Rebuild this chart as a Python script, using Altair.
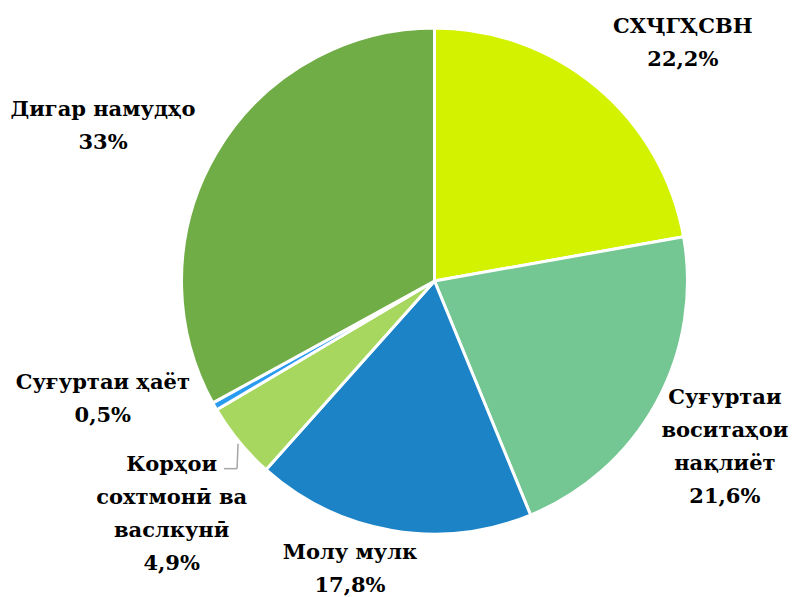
import math
import altair as alt
import pandas as pd

# ---- data ----
categories = [
    "СХҶГҲСВН",
    "Суғуртаи воситаҳои нақлиёт",
    "Молу мулк",
    "Корҳои сохтмонӣ ва васлкунӣ",
    "Суғуртаи ҳаёт",
    "Дигар намудҳо",
]
label_lines = [
    "СХҶГҲСВН",
    "Суғуртаи\nвоситаҳои\nнақлиёт",
    "Молу мулк",
    "Корҳои\nсохтмонӣ ва\nваслкунӣ",
    "Суғуртаи ҳаёт",
    "Дигар намудҳо",
]
values = [22.2, 21.6, 17.8, 4.9, 0.5, 33.0]
value_labels = ["22,2%", "21,6%", "17,8%", "4,9%", "0,5%", "33%"]
colors = ["#d2f200", "#74c693", "#1c83c7", "#a7d75e", "#2a9cf0", "#71ad47"]

# ---- layout (styling only) ----
W, H = 787, 589
CX, CY = 426.5, 273
R = 253
label_radius = [355, 313, 285, 321, 347, 373]
label_nudge = [1.23, -1.91, 2.09, 1.22, 3.5, -0.92]  # in percent of the circle

starts, ends = [], []
acc = 0.0
for v in values:
    starts.append(acc)
    acc += v
    ends.append(acc)

df = pd.DataFrame({
    "cat": categories,
    "value": values,
    "start": starts,
    "end": ends,
    "label": [f"{l}\n{p}" for l, p in zip(label_lines, value_labels)],
    "lab_angle": [(s + e) / 2 + n for s, e, n in zip(starts, ends, label_nudge)],
    "lab_r": label_radius,
})

theta_scale = alt.Scale(domain=[0, 100], range=[0, 2 * math.pi])

arcs = alt.Chart(df).mark_arc(
    outerRadius=R, stroke="white", strokeWidth=3
).encode(
    x=alt.value(CX),
    y=alt.value(CY),
    theta=alt.Theta("start:Q", scale=theta_scale),
    theta2="end:Q",
    color=alt.Color("cat:N", scale=alt.Scale(domain=categories, range=colors), legend=None),
)

texts = alt.Chart(df).mark_text(
    font="DejaVu Serif", fontWeight="bold", fontSize=21, lineHeight=33,
    lineBreak="\n", align="center", baseline="middle", color="#000000",
).encode(
    x=alt.value(CX),
    y=alt.value(CY),
    theta=alt.Theta("lab_angle:Q", scale=theta_scale),
    radius=alt.Radius("lab_r:Q", scale=None),
    text="label:N",
)

# leader line for the construction slice, derived from its mid-angle
i = 3
mid = (starts[i] + ends[i]) / 2 / 100 * 2 * math.pi
px = CX + R * math.sin(mid)
py = CY - R * math.cos(mid)
leader_df = pd.DataFrame({"k": [0]})
lead1 = alt.Chart(leader_df).mark_rule(color="#a6a6a6", strokeWidth=1.5).encode(
    x=alt.value(px - 1), y=alt.value(py + 2), x2=alt.value(px - 2), y2=alt.value(py + 27)
)
lead2 = alt.Chart(leader_df).mark_rule(color="#a6a6a6", strokeWidth=1.5).encode(
    x=alt.value(px - 2), y=alt.value(py + 27), x2=alt.value(px - 15), y2=alt.value(py + 27)
)

chart = alt.layer(arcs, lead1, lead2, texts).properties(
    width=W, height=H, autosize=alt.AutoSizeParams(type="none"), padding=0
).configure_view(stroke=None)

chart.save("out.html", embed_options={"renderer": "svg", "actions": False})
